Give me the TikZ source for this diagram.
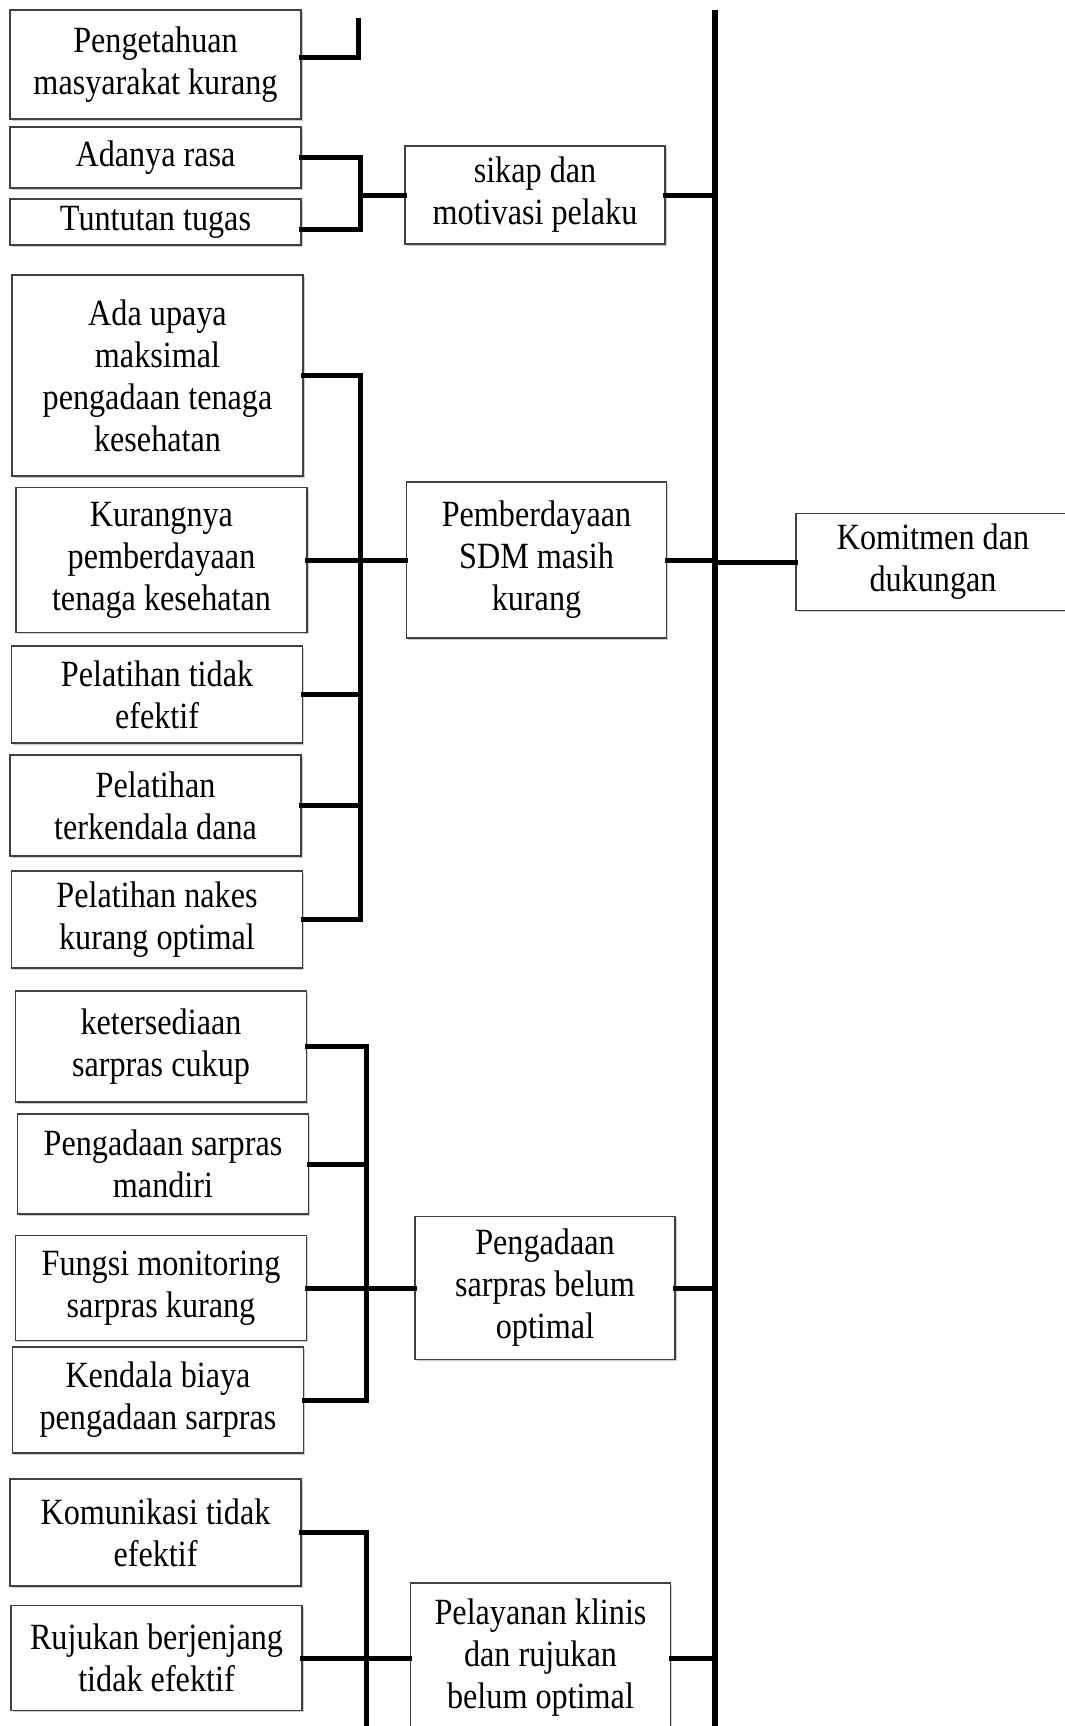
\documentclass[tikz,border=0pt]{standalone}
\usepackage{fontspec}
\setmainfont[FakeStretch=0.87]{Liberation Serif}
\usetikzlibrary{shadows}

\begin{document}
\begin{tikzpicture}[x=0.5pt,y=-0.5pt]
                \tikzstyle{box} = [rectangle, draw=black!75, line width=0.6pt, fill=white, align=center, inner sep=1pt, font=\fontsize{18.5}{21}\selectfont, drop shadow={shadow xshift=0.8pt, shadow yshift=-0.9pt, fill=black!40}]
                \tikzstyle{cause} = [box, minimum width=145.5pt]
                \tikzstyle{effect} = [box, minimum width=130pt]
                \tikzstyle{link} = [line width=2.5pt, line cap=rect]
                \tikzstyle{spine} = [line width=3.2pt]
                \useasboundingbox (0,0) rectangle (1065,1726);

                % sikap dan motivasi
                \node (tahu) [cause, minimum height=54.5pt] at (155.5,64.5) {Pengetahuan\\masyarakat kurang};
                \node (rasa) [cause, minimum height=30.5pt] at (155.5,157.5) {Adanya rasa};
                \node (tugas) [cause, minimum height=23pt] at (155.5,222) {\raisebox{-3pt}{Tuntutan tugas}};
                \node (sikap) [effect, minimum height=49pt] at (535,195) {sikap dan\\motivasi pelaku};

                % pemberdayaan SDM
                \node (upaya) [cause, minimum height=100.5pt] at (157.5,375.5) {Ada upaya\\maksimal\\pengadaan tenaga\\kesehatan};
                \node (kurang) [cause, minimum height=72.5pt] at (161.5,560) {Kurangnya\\pemberdayaan\\tenaga kesehatan};
                \node (ptidak) [cause, minimum height=48.5pt] at (157,694.5) {Pelatihan tidak\\efektif};
                \node (pdana) [cause, minimum height=50.5pt] at (155.5,805.5) {Pelatihan\\terkendala dana};
                \node (pnakes) [cause, minimum height=48.5pt] at (157,919.5) {Pelatihan nakes\\kurang optimal};
                \node (sdm) [effect, minimum height=78pt] at (536.5,560) {Pemberdayaan\\SDM masih\\kurang};

                % sarpras
                \node (sedia) [cause, minimum height=55.5pt] at (161,1046.5) {ketersediaan\\sarpras cukup};
                \node (mandiri) [cause, minimum height=50pt] at (163,1164) {Pengadaan sarpras\\mandiri};
                \node (monitor) [cause, minimum height=52.5pt] at (161,1288) {Fungsi monitoring\\sarpras kurang};
                \node (biaya) [cause, minimum height=53pt] at (158,1400) {Kendala biaya\\pengadaan sarpras};
                \node (sarpras) [effect, minimum height=71.5pt] at (545,1288) {Pengadaan\\sarpras belum\\optimal};

                % pelayanan klinis
                \node (komunikasi) [cause, minimum height=53.5pt] at (155.5,1532.5) {Komunikasi tidak\\efektif};
                \node (rujukan) [cause, minimum height=52.5pt] at (156.5,1658) {Rujukan berjenjang\\tidak efektif};
                \node (klinis) [effect, minimum height=75pt] at (540.5,1658) {Pelayanan klinis\\dan rujukan\\belum optimal};

                \node (komitmen) [box, minimum width=137pt, minimum height=48.5pt] at (933,562) {Komitmen dan\\dukungan};

                \coordinate (top) at (715,10);
                \coordinate (bot) at (715,1726);
                \coordinate (stub) at (358,20);
                \coordinate (j1) at (360,195);
                \coordinate (v2) at (360,375.5);
                \coordinate (v3) at (366,1046.5);
                \coordinate (v4) at (366,1532.5);
                \coordinate (v4end) at (366,1726);

                \draw [spine] (top) -- (bot);

                \draw [link] ([yshift=3.75pt]tahu.east) -| (stub);
                \draw [link] (rasa.east) -| (j1) |- ([yshift=-3.5pt]tugas.east);
                \draw [link] (j1) -- (sikap.west);
                \draw [link] (sikap.east) -- (sikap.east -| top);

                \draw [link] (upaya.east) -- (v2) -- (pnakes.east -| v2);
                \draw [link] (kurang.east) -- (sdm.west);
                \draw [link] (ptidak.east) -- (ptidak.east -| v2);
                \draw [link] (pdana.east) -- (pdana.east -| v2);
                \draw [link] (pnakes.east) -- (pnakes.east -| v2);
                \draw [link] (sdm.east) -- (sdm.east -| top);
                \draw [link] (komitmen.west -| top) -- (komitmen.west);

                \draw [link] (sedia.east) -- (v3) -- (biaya.east -| v3);
                \draw [link] (mandiri.east) -- (mandiri.east -| v3);
                \draw [link] (monitor.east) -- (sarpras.west);
                \draw [link] (biaya.east) -- (biaya.east -| v3);
                \draw [link] (sarpras.east) -- (sarpras.east -| top);

                \draw [link] (komunikasi.east) -- (v4) -- (v4end);
                \draw [link] (rujukan.east) -- (klinis.west);
                \draw [link] (klinis.east) -- (klinis.east -| top);

            \end{tikzpicture}
\end{document}
